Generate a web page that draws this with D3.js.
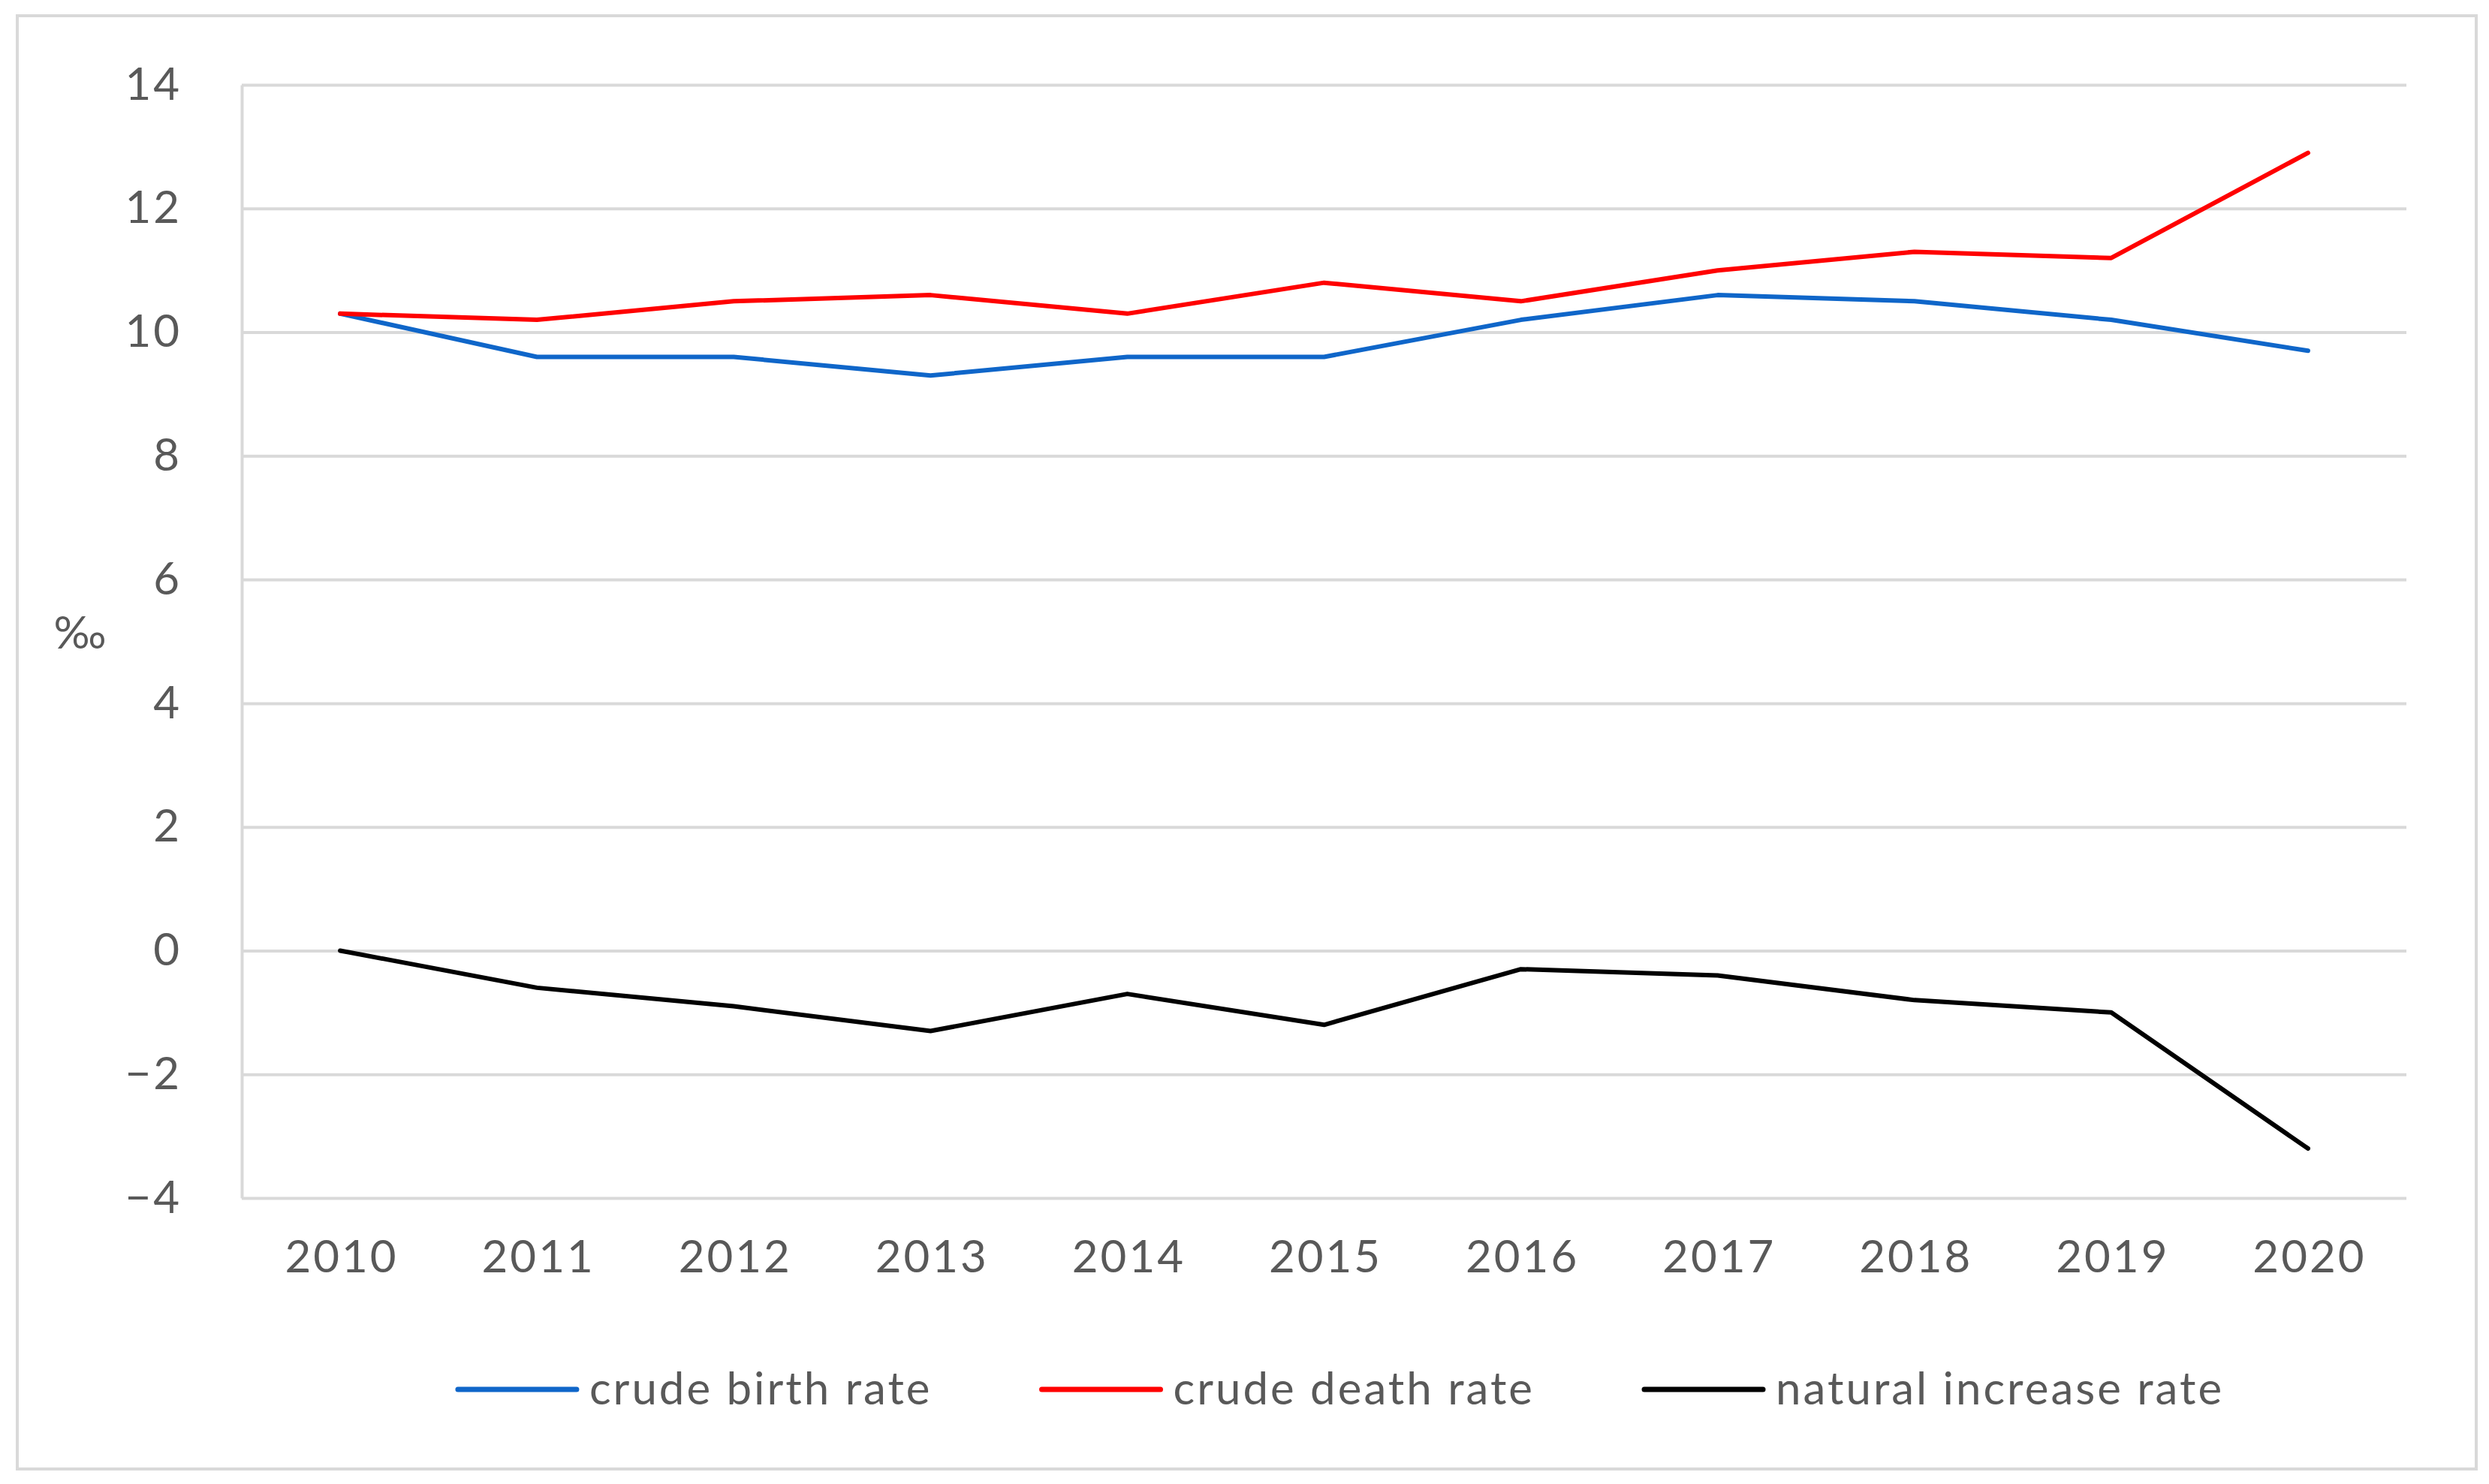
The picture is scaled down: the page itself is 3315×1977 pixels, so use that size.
<!DOCTYPE html>
<html>
<head>
<meta charset="utf-8">
<title>Crude birth, death and natural increase rates 2010-2020</title>
<style>
  html, body {
    margin: 0;
    padding: 0;
    background: #fff;
  }
  svg {
    display: block;
  }
  text {
    font-family: Lato, "Open Sans", sans-serif;
    fill: #595959;
    letter-spacing: 3px;
  }
  .grid line {
    stroke: #d9d9d9;
    stroke-width: 4px;
  }
  .grid .domain {
    stroke: #d9d9d9;
    stroke-width: 4px;
  }
  .series {
    fill: none;
    stroke-width: 6px;
    stroke-linejoin: round;
    stroke-linecap: round;
  }
</style>
</head>
<body>
<svg></svg>

<script src="https://d3js.org/d3.v7.min.js"></script>
<script>
  // values in per mille
  const years = ["2010", "2011", "2012", "2013", "2014", "2015", "2016", "2017", "2018", "2019", "2020"];
  const birthRate = [10.3, 9.6, 9.6, 9.3, 9.6, 9.6, 10.2, 10.6, 10.5, 10.2, 9.7];
  const deathRate = [10.3, 10.2, 10.5, 10.6, 10.3, 10.8, 10.5, 11.0, 11.3, 11.2, 12.9];
  const naturalIncrease = [0.0, -0.6, -0.9, -1.3, -0.7, -1.2, -0.3, -0.4, -0.8, -1.0, -3.2];
  const yTicks = [-4, -2, 0, 2, 4, 6, 8, 10, 12, 14];
  const seriesNames = ["crude birth rate", "crude death rate", "natural increase rate"];
  const seriesColors = ["#0f66c9", "#ff0000", "#000000"];

  const width = 3315;
  const height = 1977;
  const fontSize = 60;

  const plot = { left: 322, right: 3205, top: 113, bottom: 1596 };

  const svg = d3.select("svg")
    .attr("width", width)
    .attr("height", height);

  // outer chart frame
  svg.append("rect")
    .attr("x", 23)
    .attr("y", 21)
    .attr("width", 3298 - 23)
    .attr("height", 1957 - 21)
    .attr("fill", "#fff")
    .attr("stroke", "#d9d9d9")
    .attr("stroke-width", 4);

  const x = d3.scalePoint()
    .domain(years)
    .range([plot.left, plot.right])
    .padding(0.5);

  const y = d3.scaleLinear()
    .domain([-4, 14])
    .range([plot.bottom, plot.top]);

  // horizontal gridlines + y labels
  const yAxis = svg.append("g")
    .attr("class", "grid")
    .attr("transform", `translate(${plot.left},0)`)
    .call(d3.axisLeft(y)
      .tickValues(yTicks)
      .tickSizeInner(-(plot.right - plot.left))
      .tickSizeOuter(0)
      .tickPadding(80));

  yAxis.selectAll("text")
    .attr("font-size", fontSize)
    .style("fill", "#595959");

  // x labels
  const xAxis = svg.append("g")
    .attr("transform", `translate(0,${plot.bottom})`)
    .call(d3.axisBottom(x).tickSize(0).tickPadding(56));

  xAxis.select(".domain").remove();
  xAxis.selectAll("text")
    .attr("font-size", fontSize)
    .attr("dx", "1.5px")
    .style("fill", "#595959");

  // unit label
  svg.append("text")
    .attr("x", 108)
    .attr("y", 864)
    .attr("text-anchor", "middle")
    .attr("font-size", fontSize)
    .text("‰");

  const series = [birthRate, deathRate, naturalIncrease];

  const line = d3.line()
    .x((d, i) => x(years[i]))
    .y(d => y(d));

  svg.append("g")
    .selectAll("path")
    .data(series)
    .join("path")
    .attr("class", "series")
    .attr("stroke", (d, i) => seriesColors[i])
    .attr("d", line);

  // legend, laid out from measured text widths, centred under the chart
  const legendY = 1851;
  const swatch = 158, swatchGap = 17, itemGap = 146;
  const legend = svg.append("g");

  const items = legend.selectAll("g")
    .data(seriesNames)
    .join("g");

  items.append("line")
    .attr("x1", 0)
    .attr("x2", swatch)
    .attr("y1", 0)
    .attr("y2", 0)
    .attr("stroke", (d, i) => seriesColors[i])
    .attr("stroke-width", 7)
    .attr("stroke-linecap", "round");

  items.append("text")
    .attr("x", swatch + swatchGap)
    .attr("dy", "0.34em")
    .attr("font-size", fontSize)
    .text(d => d);

  let offset = 0;
  const positions = [];
  items.each(function() {
    const w = d3.select(this).select("text").node().getComputedTextLength();
    positions.push(offset);
    offset += swatch + swatchGap + w + itemGap;
  });
  const total = offset - itemGap;
  const legendCenter = 1786;
  const startX = legendCenter - total / 2;

  items.attr("transform", (d, i) => `translate(${startX + positions[i]},${legendY})`);
</script>
</body>
</html>
